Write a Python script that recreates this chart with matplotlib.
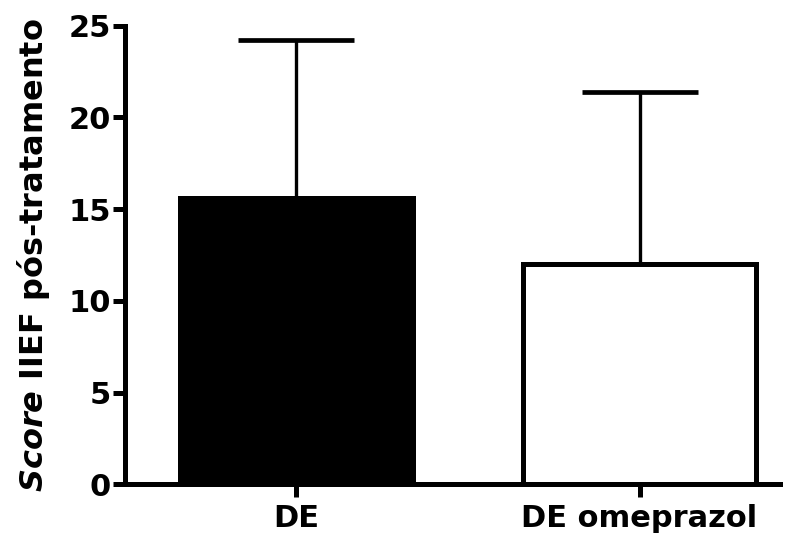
import numpy as np
import matplotlib
matplotlib.use('Agg')
import matplotlib.pyplot as plt

# group data: mean score and upper error (SD)
groups = ['DE', 'DE omeprazol']
means = [15.6, 12.0]
errors = [8.6, 9.4]
bar_colors = ['black', 'white']
yticks = [0, 5, 10, 15, 20, 25]

plt.rcParams['font.family'] = 'DejaVu Sans'
plt.rcParams['font.weight'] = 'bold'
plt.rcParams['mathtext.fontset'] = 'custom'
plt.rcParams['mathtext.bfit'] = 'DejaVu Sans:italic:bold'

fig = plt.figure(figsize=(8.06, 5.38), dpi=100)
ax = fig.add_axes([0.155, 0.100, 0.813, 0.852])

x = np.arange(len(groups))
ax.bar(x, means, width=0.68, color=bar_colors, edgecolor='black', linewidth=3.6, zorder=2)
# only the upper half of the error bar is drawn
eb = ax.errorbar(x, means, yerr=[np.zeros(len(means)), errors], fmt='none', ecolor='black',
                 elinewidth=2.4, capsize=42, capthick=3.4, zorder=1)
for cap in eb[1]:
    cap.set_solid_capstyle('round')

ax.set_xlim(-0.5, 1.41)
ax.set_ylim(0, 25)
ax.set_yticks(yticks)
ax.set_xticks(x)
ax.set_xticklabels(groups)

for side in ['top', 'right']:
    ax.spines[side].set_visible(False)
for side in ['left', 'bottom']:
    ax.spines[side].set_linewidth(3.6)
ax.tick_params(axis='both', width=3.6, length=9, labelsize=22, pad=1)
ax.tick_params(axis='x', pad=5)

ax.set_ylabel(r'$\mathbfit{Score}$ IIEF pós-tratamento', fontsize=23, fontweight='bold')
ax.yaxis.set_label_coords(-0.112, 0.5)

fig.savefig('out.png', dpi=100)
